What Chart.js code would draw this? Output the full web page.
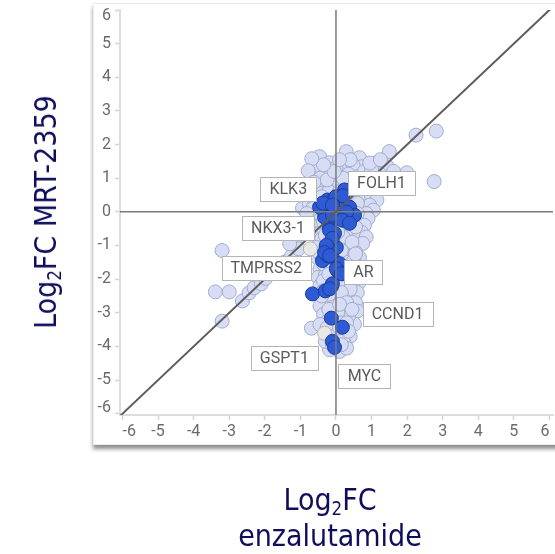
<!DOCTYPE html>
<html>
<head>
<meta charset="utf-8">
<script src="https://cdn.jsdelivr.net/npm/chart.js@4.4.1/dist/chart.umd.min.js"></script>
<style>
  html, body { margin: 0; padding: 0; background: #fff; }
  body { width: 555px; height: 554px; position: relative; overflow: hidden; }
  #panel {
    position: absolute; left: 93px; top: 3px; width: 470px; height: 440px;
    background: #fff; border: 1px solid #ececf0;
    box-shadow: 0 4px 4px rgba(0, 0, 0, 0.45);
  }
  #chart { position: absolute; left: 0; top: 0; }
  .title {
    position: absolute; color: #0e0e5c; white-space: nowrap;
    font-family: "DejaVu Sans Condensed", "DejaVu Sans", sans-serif;
    font-size: 30px; line-height: 36px;
  }
  .title sub { font-size: 0.62em; vertical-align: -0.28em; line-height: 0; }
  #ytitle { left: 46px; top: 212px; transform: translate(-50%, -50%) rotate(-90deg); }
  #xtitle { left: 330px; top: 482px; transform: translateX(-50%); text-align: center; }
</style>
</head>
<body>
<div id="panel"></div>
<canvas id="chart" width="555" height="554"></canvas>
<div class="title" id="ytitle">Log<sub>2</sub>FC MRT-2359</div>
<div class="title" id="xtitle">Log<sub>2</sub>FC<br>enzalutamide</div>

<script>
// Axis ticks (log2 fold change)
const xTickValues = [-6, -5, -4, -3, -2, -1, 0, 1, 2, 3, 4, 5, 6];
const yTickValues = [-6, -5, -4, -3, -2, -1, 0, 1, 2, 3, 4, 5, 6];

// All other genes: [log2FC enzalutamide, log2FC MRT-2359]
const otherGenes = [
  [2.82, 2.40], [2.25, 2.28], [2.76, 0.90],
  [-3.20, -1.15], [-3.39, -2.38], [-3.00, -2.38], [-3.20, -3.25], [-2.63, -2.65],
  [-2.44, -2.41], [-2.30, -2.26], [-2.10, -2.14], [-1.98, -1.98], [-1.85, -1.80],
  [-1.60, -1.62], [-1.45, -1.50], [-1.25, -1.32], [-1.11, -0.76], [-1.05, -1.10],
  [-0.95, -0.62], [-1.30, -0.95],
  [-0.46, 1.64], [0.29, 1.79], [0.66, 1.61], [1.50, 1.79],
  [-0.18, 1.46], [0.24, 1.46], [0.72, 1.34], [1.14, 1.46], [1.45, 1.34], [-0.62, 1.35],
  [0.00, 1.30], [0.48, 1.38],
  [-0.24, 1.16], [0.04, 1.04], [0.94, 1.04], [1.99, 1.16], [-0.70, 1.05], [-0.45, 1.00],
  [0.35, 1.12], [0.62, 1.05], [1.25, 1.10], [1.62, 1.20],
  [-0.32, 0.80], [-0.55, 0.72], [-0.80, 0.85], [-0.10, 0.75], [0.10, 0.85], [0.45, 0.80],
  [0.80, 0.75], [1.05, 0.85], [1.38, 0.90], [1.72, 0.98],
  [-0.70, 0.50], [-0.45, 0.55], [-0.20, 0.60], [0.05, 0.50], [0.50, 0.45], [0.78, 0.50],
  [1.00, 0.45], [1.15, 0.35],
  [-0.94, 0.11], [-0.75, 0.25], [-0.55, 0.05], [-0.60, 0.30], [0.50, 0.25], [0.72, 0.15],
  [0.95, 0.20], [1.05, 0.05], [0.85, -0.05],
  [-0.52, -0.25], [-0.75, -0.15], [-0.90, -0.30], [0.66, -0.25], [0.90, -0.20],
  [0.80, -0.40], [-0.60, -0.45],
  [0.72, -0.61], [-0.55, -0.65], [-0.75, -0.55], [0.50, -0.70], [0.85, -0.75],
  [0.30, -0.55], [-0.40, -0.80],
  [0.75, -0.94], [-0.55, -1.06], [-0.52, -1.36], [0.66, -1.36], [0.40, -1.10],
  [0.55, -1.20], [-0.35, -1.15], [0.25, -1.30],
  [0.72, -1.84], [0.60, -1.60], [-0.45, -1.70], [-0.50, -1.95], [0.45, -1.75],
  [0.30, -2.00], [0.65, -2.10], [-0.30, -1.90],
  [0.24, -2.26], [0.38, -2.55], [-0.45, -2.20], [0.60, -2.40], [0.55, -2.70],
  [-0.30, -2.60], [-0.45, -2.80], [0.05, -2.50], [0.20, -2.85], [-0.10, -2.70],
  [0.60, -2.95], [0.52, -3.34], [0.35, -3.10], [-0.35, -3.05], [-0.20, -3.20],
  [0.05, -3.00], [0.25, -3.50], [-0.69, -3.46], [-0.45, -3.35], [0.40, -3.70],
  [0.10, -4.15], [-0.18, -4.10], [0.25, -3.95], [-0.30, -3.85], [0.00, -3.60],
  [0.30, -4.05], [-0.10, -3.95],
  [-0.30, 0.30], [-0.10, 0.20], [0.20, 0.15], [0.35, 0.40], [-0.40, 0.45], [0.10, 0.60],
  [0.30, 0.70], [-0.25, 0.95], [0.20, 1.00], [0.55, 0.95], [0.80, 1.20], [1.00, 1.25],
  [-0.05, 1.20], [0.40, 1.55], [0.95, 1.45], [1.25, 1.55], [-0.35, 1.40], [0.10, 1.55],
  [0.60, 0.25], [0.25, -0.10],
  [-0.35, -0.30], [-0.20, -0.50], [0.10, -0.40], [0.40, -0.20], [0.55, -0.45],
  [0.20, -0.75], [-0.30, -0.70], [0.45, -0.90], [-0.15, -0.85], [0.05, -0.60],
  [0.60, -0.05], [-0.45, -0.05], [-0.65, 0.10], [0.35, 0.05],
  [-0.35, -1.55], [-0.15, -1.60], [0.30, -1.50], [0.50, -1.45], [0.15, -1.15],
  [-0.45, -1.25], [0.45, -1.95], [0.15, -2.10], [-0.35, -2.05], [0.55, -1.25],
  [0.35, -1.75], [-0.20, -1.85], [0.60, -1.75],
  [-0.20, -2.45], [0.40, -2.30], [0.15, -2.40], [-0.35, -2.35], [0.30, -2.70],
  [0.45, -2.90], [-0.20, -2.90], [0.10, -2.75], [-0.40, -2.50],
  [0.15, -3.30], [-0.25, -3.45], [0.30, -3.30], [0.20, -3.75], [-0.15, -3.70],
  [0.10, -3.45], [0.35, -3.55], [0.15, -3.95],
  [-0.68, 1.58], [-0.78, 1.22], [-0.88, 0.62], [-0.62, 0.88], [-0.82, -0.05]
];

// AR-regulated genes (highlighted)
const arGenes = [
  [-0.66, -2.44], [-0.30, -2.35], [-0.13, -2.23], [-0.10, -2.14], [-0.38, -1.45],
  [-0.24, -1.30], [-0.10, -1.36], [0.10, -1.54], [0.04, -1.75], [0.18, -1.84],
  [-0.13, -0.94], [0.01, -1.06], [-0.04, -0.64], [-0.18, -0.46], [-0.27, -0.04],
  [-0.38, 0.14], [-0.24, 0.35], [-0.04, 0.41], [0.15, 0.35], [0.24, 0.65],
  [0.38, 0.14], [0.52, -0.10], [0.30, -0.01], [0.04, -0.16], [-0.32, -0.16],
  [-0.10, -0.10], [0.18, -0.25], [0.38, -0.34], [-0.18, -0.55], [-0.10, -0.79],
  [-0.27, -1.00], [-0.32, -1.21], [-0.18, -1.30], [0.01, -1.69], [0.15, -1.84],
  [-0.18, -2.29], [-0.13, -3.16], [0.18, -3.43], [-0.10, -3.85], [-0.04, -4.03],
  [-0.46, 0.14], [-0.37, 0.26], [0.00, 0.45], [0.20, 0.48], [-0.10, 0.20]
];

// Unhighlighted reference genes
const neutralGenes = [[-0.32, -3.61], [-0.72, -1.10]];

// Gene call-outs: name and box centre in data units
const calloutNames = ['KLK3', 'FOLH1', 'NKX3-1', 'TMPRSS2', 'AR', 'CCND1', 'GSPT1', 'MYC'];
const calloutX = [-1.34, 1.28, -1.63, -1.96, 0.77, 1.73, -1.45, 0.80];
const calloutY = [0.68, 0.86, -0.47, -1.67, -1.78, -3.04, -4.36, -4.88];

const toXY = arr => arr.map(p => ({ x: p[0], y: p[1] }));
const tickFont = { family: 'Roboto', size: 16 };
const tickColor = '#676a70';

const overlay = {
  id: 'overlay',
  afterDatasetsDraw(chart) {
    const { ctx, chartArea: a, scales: { x, y } } = chart;
    ctx.save();
    ctx.beginPath();
    ctx.rect(a.left, a.top, a.right - a.left, a.bottom - a.top);
    ctx.clip();
    // zero lines
    ctx.strokeStyle = '#7a7a7a';
    ctx.lineWidth = 1.5;
    ctx.beginPath();
    ctx.moveTo(a.left, y.getPixelForValue(0));
    ctx.lineTo(a.right, y.getPixelForValue(0));
    ctx.moveTo(x.getPixelForValue(0), a.top);
    ctx.lineTo(x.getPixelForValue(0), a.bottom);
    ctx.stroke();
    // identity line y = x
    ctx.strokeStyle = '#5c5c5c';
    ctx.lineWidth = 2;
    ctx.beginPath();
    ctx.moveTo(x.getPixelForValue(-7), y.getPixelForValue(-7));
    ctx.lineTo(x.getPixelForValue(7), y.getPixelForValue(7));
    ctx.stroke();
    ctx.restore();

    // call-out boxes
    ctx.save();
    ctx.font = '16px Roboto';
    ctx.textAlign = 'center';
    ctx.textBaseline = 'middle';
    calloutNames.forEach((name, i) => {
      const cx = x.getPixelForValue(calloutX[i]);
      const cy = y.getPixelForValue(calloutY[i]);
      const w = Math.round(ctx.measureText(name).width + 18);
      const h = 24;
      const l = Math.round(cx - w / 2) + 0.5, t = Math.round(cy - h / 2) + 0.5;
      ctx.fillStyle = '#ffffff';
      ctx.fillRect(l, t, w, h);
      ctx.strokeStyle = '#b4b4b4';
      ctx.lineWidth = 1;
      ctx.strokeRect(l, t, w, h);
      ctx.fillStyle = '#5a5a5a';
      ctx.fillText(name, cx, cy + 1);
    });
    ctx.restore();
  },
  afterDraw(chart) {
    // end labels of the vertical axis sit inside the axis span
    const { ctx, scales: { y } } = chart;
    ctx.save();
    ctx.font = '16px Roboto';
    ctx.fillStyle = tickColor;
    ctx.textAlign = 'right';
    ctx.textBaseline = 'middle';
    const lx = y.right - 5 - 4;
    ctx.fillText('6', lx, y.getPixelForValue(6) + 5.5);
    ctx.fillText('-6', lx, y.getPixelForValue(-6) - 6);
    ctx.restore();
  }
};

new Chart(document.getElementById('chart'), {
  type: 'scatter',
  data: {
    datasets: [
      {
        label: 'AR genes', data: toXY(arGenes), order: 0,
        backgroundColor: '#2d5bd6', borderColor: '#1b3c96', borderWidth: 1,
        pointRadius: 7
      },
      {
        label: 'Reference', data: toXY(neutralGenes), order: 1,
        backgroundColor: '#e8e8e8', borderColor: '#b3b3b3', borderWidth: 1,
        pointRadius: 7
      },
      {
        label: 'Other genes', data: toXY(otherGenes), order: 2,
        backgroundColor: '#d6ddf4', borderColor: '#a3abcc', borderWidth: 1,
        pointRadius: 7
      }
    ]
  },
  options: {
    responsive: false,
    devicePixelRatio: 1,
    animation: false,
    layout: { autoPadding: false, padding: { left: 94, right: 2, top: 10, bottom: 109 } },
    plugins: { legend: { display: false }, tooltip: { enabled: false } },
    scales: {
      x: {
        type: 'linear', min: -6.07, max: 6.1,
        afterBuildTicks: s => { s.ticks = xTickValues.map(v => ({ value: v })); },
        afterFit: s => { s.height = 30; s.paddingLeft = 0; s.paddingRight = 0; },
        grid: { drawOnChartArea: false, drawTicks: true, tickLength: 5, tickColor: '#d2d2da', tickWidth: 1.5 },
        border: { display: true, color: '#dcdce4', width: 2 },
        ticks: { align: 'inner', padding: 2, font: tickFont, color: tickColor, callback: v => String(v) }
      },
      y: {
        type: 'linear', min: -6.04, max: 6.0,
        afterBuildTicks: s => { s.ticks = yTickValues.map(v => ({ value: v })); },
        afterFit: s => { s.width = 26; s.paddingTop = 0; s.paddingBottom = 0; },
        grid: { drawOnChartArea: false, drawTicks: true, tickLength: 5, tickColor: '#d2d2da', tickWidth: 1.5 },
        border: { display: true, color: '#dcdce4', width: 2 },
        ticks: {
          padding: 4, font: tickFont, color: tickColor,
          callback: v => (Math.abs(v) === 6 ? '' : String(v))
        }
      }
    }
  },
  plugins: [overlay]
});
</script>
</body>
</html>
